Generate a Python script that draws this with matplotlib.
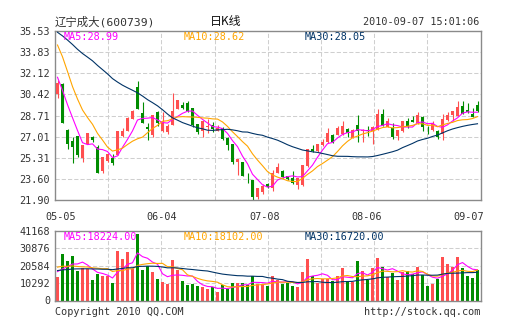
import numpy as np
import matplotlib
matplotlib.use('Agg')
import matplotlib.pyplot as plt

# ---------------- data ----------------
opens = [30.45, 31.26, 27.55, 26.65, 27.09, 25.29, 26.42, 26.98, 26.20, 24.27,
         25.02, 25.29, 25.56, 27.09, 27.44, 28.44, 30.99, 28.89, 27.82, 27.17,
         29.00, 27.50, 27.35, 27.95, 29.22, 29.60, 29.75, 29.30, 28.00, 27.47,
         27.80, 27.98, 27.50, 27.70, 26.90, 26.42, 24.98, 25.00, 23.76, 23.53,
         22.12, 22.55, 23.20, 22.85, 24.07, 24.27, 23.82, 23.70, 23.10, 23.10,
         24.65, 26.05, 25.85, 26.30, 26.55, 27.16, 27.17, 27.20, 27.65, 26.90,
         27.96, 27.45, 27.55, 27.43, 27.55, 28.80, 27.82, 27.72, 27.09, 27.44,
         28.30, 28.35, 28.09, 28.63, 27.56, 27.55, 27.50, 27.23, 28.36, 28.79,
         28.71, 29.50, 29.16, 28.84, 29.59]
highs = [31.55, 31.30, 27.60, 26.95, 27.10, 26.37, 27.31, 27.10, 26.30, 25.34,
         25.65, 25.60, 27.44, 27.74, 28.57, 29.15, 31.47, 29.80, 28.10, 28.78,
         29.05, 29.00, 28.00, 30.50, 30.00, 29.80, 29.90, 29.35, 28.00, 28.30,
         28.40, 28.20, 27.95, 27.80, 26.95, 26.42, 25.20, 25.00, 24.10, 23.55,
         22.90, 23.20, 23.30, 24.30, 24.85, 24.30, 23.85, 24.20, 23.65, 24.75,
         26.05, 26.30, 26.42, 26.80, 27.70, 27.20, 27.90, 28.25, 27.70, 27.60,
         28.78, 27.60, 27.90, 27.85, 29.25, 29.25, 28.50, 28.10, 27.55, 28.25,
         28.50, 28.70, 29.00, 28.65, 27.90, 28.25, 27.55, 28.80, 29.00, 29.10,
         29.86, 29.86, 29.70, 29.30, 29.92]
lows = [30.15, 28.09, 26.00, 24.86, 25.40, 25.00, 26.42, 26.60, 24.05, 24.05,
        25.00, 24.75, 25.56, 26.95, 27.44, 28.44, 29.25, 28.08, 26.74, 26.98,
        27.90, 27.40, 27.20, 27.95, 29.20, 29.20, 29.00, 27.80, 27.25, 26.96,
        27.30, 27.40, 27.45, 26.75, 25.90, 24.80, 23.95, 23.87, 23.30, 21.80,
        21.95, 22.40, 22.85, 22.60, 24.05, 23.70, 23.50, 23.20, 22.80, 23.05,
        24.60, 25.80, 25.80, 26.28, 26.50, 26.50, 27.15, 27.15, 26.95, 26.90,
        26.60, 26.55, 27.10, 26.40, 27.55, 27.90, 27.80, 26.80, 26.74, 27.40,
        27.70, 28.20, 28.05, 27.45, 27.20, 27.50, 26.80, 26.75, 28.30, 28.30,
        28.70, 28.80, 28.90, 28.60, 29.00]
closes = [31.30, 28.09, 26.45, 26.15, 25.56, 26.37, 27.31, 26.75, 24.05, 25.34,
          25.61, 24.86, 27.44, 27.50, 28.52, 29.05, 29.25, 28.08, 27.60, 28.78,
          28.08, 28.20, 27.85, 29.11, 29.95, 29.35, 29.05, 27.93, 27.38, 28.30,
          27.90, 27.60, 27.70, 26.80, 26.35, 25.00, 25.18, 23.87, 23.72, 22.12,
          22.88, 23.05, 22.92, 24.10, 24.60, 23.73, 23.56, 23.25, 23.65, 24.75,
          26.05, 25.86, 26.42, 26.55, 27.33, 26.55, 27.67, 27.83, 27.30, 27.58,
          27.45, 27.55, 27.50, 27.80, 28.82, 27.90, 28.25, 27.02, 27.52, 28.25,
          27.90, 28.22, 28.79, 27.82, 27.52, 28.09, 26.96, 28.44, 28.79, 29.06,
          29.38, 28.84, 28.98, 28.63, 29.06]
volumes = [13650, 27300, 23640, 26090, 17530, 19160, 18750, 12020, 15900, 14270,
           14270, 10190, 29350, 24860, 28530, 18750, 39540, 18140, 20180, 17120,
           12640, 11000, 9580, 24250, 18340, 11410, 8970, 9580, 8360, 8150,
           6520, 7950, 4890, 8970, 6930, 10190, 10190, 10190, 8970, 14270,
           10000, 9580, 8560, 14670, 12230, 9580, 10600, 8560, 8150, 17120,
           24460, 14270, 10600, 12640, 12640, 11270, 14670, 19300, 11000, 11000,
           23500, 17700, 12230, 19300, 25000, 20100, 13650, 16200, 12230, 16800,
           17200, 15690, 20100, 15080, 8560, 9500, 12800, 26000, 21700, 19920,
           25500, 19300, 14700, 13300, 18300]
# closes / volumes of the 29 sessions before the first candle (for the moving averages)
prior_closes = [36.8, 36.5, 36.9, 37.2, 36.6, 36.0, 35.7, 35.2, 35.5, 35.9,
                36.3, 35.8, 35.1, 34.8, 35.0, 35.4, 35.9, 36.3, 36.1, 35.8,
                37.6, 38.3, 38.3, 35.6, 35.2, 33.4, 32.2, 31.4, 30.7]
prior_volumes = [15200, 17800, 16400, 14900, 18600, 17100, 15800, 16900, 18200, 15400,
                 16600, 17500, 14800, 16200, 18900, 17300, 15600, 16800, 17700, 16500,
                 21800, 24600, 23500, 20900, 21300, 19400, 17200, 18100, 17250]

price_ticks = [21.90, 23.60, 25.31, 27.01, 28.71, 30.42, 32.12, 33.83, 35.53]
vol_ticks = [0, 10292, 20584, 30876, 41168]
date_labels = ['05-05', '06-04', '07-08', '08-06', '09-07']
date_pos = [0.6, 20.8, 41.5, 61.9, 82.3]
ma_periods = [5, 10, 30]
price_ma_last = [28.99, 28.62, 28.05]
vol_ma_last = [18224.00, 18102.00, 16720.00]
title_name = '辽宁成大(600739)'
title_mid = '日K线'
title_time = '2010-09-07 15:01:06'

# ---------------- style ----------------
RED = '#ff4f4f'
GREEN = '#008c00'
MA_COLORS = ['#ff00ff', '#ffa500', '#003366']
GRID = '#cfcfcf'
SPINE = '#8a8a8a'
TXT = '#333333'
MONO = ['DejaVu Sans Mono', 'Noto Sans CJK SC']
FS = 7.3

W, H = 505, 330
fig = plt.figure(figsize=(W / 100, H / 100), dpi=100)
fig.patch.set_facecolor('white')


def px_axes(l, t, r, b):
    return fig.add_axes([l / W, 1 - b / H, (r - l) / W, (b - t) / H])


def ftext(x, y, s, ha='left', color=TXT, size=FS, family=MONO, **kw):
    fig.text(x / W, 1 - y / H, s, ha=ha, va='center', color=color,
             fontsize=size, family=family, **kw)


ax = px_axes(55, 31, 480.5, 200)
axv = px_axes(55, 231, 480.5, 300.5)

N = len(closes)
x = np.arange(N)
o = np.array(opens); h = np.array(highs); l = np.array(lows); c = np.array(closes)
v = np.array(volumes, dtype=float)
up = c >= o
cols = np.where(up, RED, GREEN)

xmin = -0.5
xmax = -0.5 + 425.5 / 5.0


def setup(a, ymin, ymax, ticks, labels):
    a.set_xlim(xmin, xmax)
    a.set_ylim(ymin, ymax)
    for k in range(1, 8):
        a.axvline(xmin + k * (xmax - xmin) / 8, color=GRID, lw=0.75,
                  ls=(0, (4, 2)), zorder=0)
    for t in ticks[1:-1]:
        a.axhline(t, color=GRID, lw=0.75, ls=(0, (4, 2)), zorder=0)
    a.set_yticks(ticks)
    a.set_yticklabels(labels, family=MONO, fontsize=FS, color=TXT)
    a.tick_params(axis='y', length=0, pad=3.5)
    for s in a.spines.values():
        s.set_color(SPINE)
        s.set_linewidth(1.0)


setup(ax, price_ticks[0], price_ticks[-1], price_ticks,
      ['%.2f' % t for t in price_ticks])
setup(axv, vol_ticks[0], vol_ticks[-1], vol_ticks, [str(t) for t in vol_ticks])

ax.set_xticks(date_pos)
ax.set_xticklabels(date_labels, family=MONO, fontsize=FS, color=TXT)
ax.tick_params(axis='x', length=0, pad=9)
axv.set_xticks([])

# candles
ax.vlines(x, l, h, colors=cols, lw=0.8, zorder=2)
body_bottom = np.minimum(o, c)
body_h = np.maximum(np.abs(c - o), 0.06)
ax.bar(x, body_h, bottom=body_bottom, width=0.64, color=cols, lw=0, zorder=3)

# volumes
axv.bar(x, v, width=0.78, color=cols, lw=0, zorder=2)


def moving(prior, vals, n):
    arr = np.concatenate([np.asarray(prior, float), np.asarray(vals, float)])
    return np.convolve(arr, np.ones(n) / n, mode='valid')[-len(vals):]


for n, col in zip(ma_periods, MA_COLORS):
    ax.plot(x, moving(prior_closes, closes, n), color=col, lw=0.8, zorder=4)
    axv.plot(x, moving(prior_volumes, volumes, n), color=col, lw=0.8, zorder=4)

# MA legends
leg_x = [64, 184, 305]
for n, col, val, lx in zip(ma_periods, MA_COLORS, price_ma_last, leg_x):
    ftext(lx, 37, 'MA%d:%.2f' % (n, val), color=col)
for n, col, val, lx in zip(ma_periods, MA_COLORS, vol_ma_last, leg_x):
    ftext(lx, 237.5, 'MA%d:%.2f' % (n, val), color=col)

# header / footer
ftext(55, 22, title_name, size=8.2)
ftext(226, 22, title_mid, ha='center', color='#111111', size=8.6,
      family=['Noto Sans CJK SC'])
ftext(479, 22, title_time, ha='right')
ftext(55, 312, 'Copyright 2010 QQ.COM')
ftext(480, 312, 'http://stock.qq.com', ha='right')

fig.savefig('out.png', dpi=100, facecolor='white')
